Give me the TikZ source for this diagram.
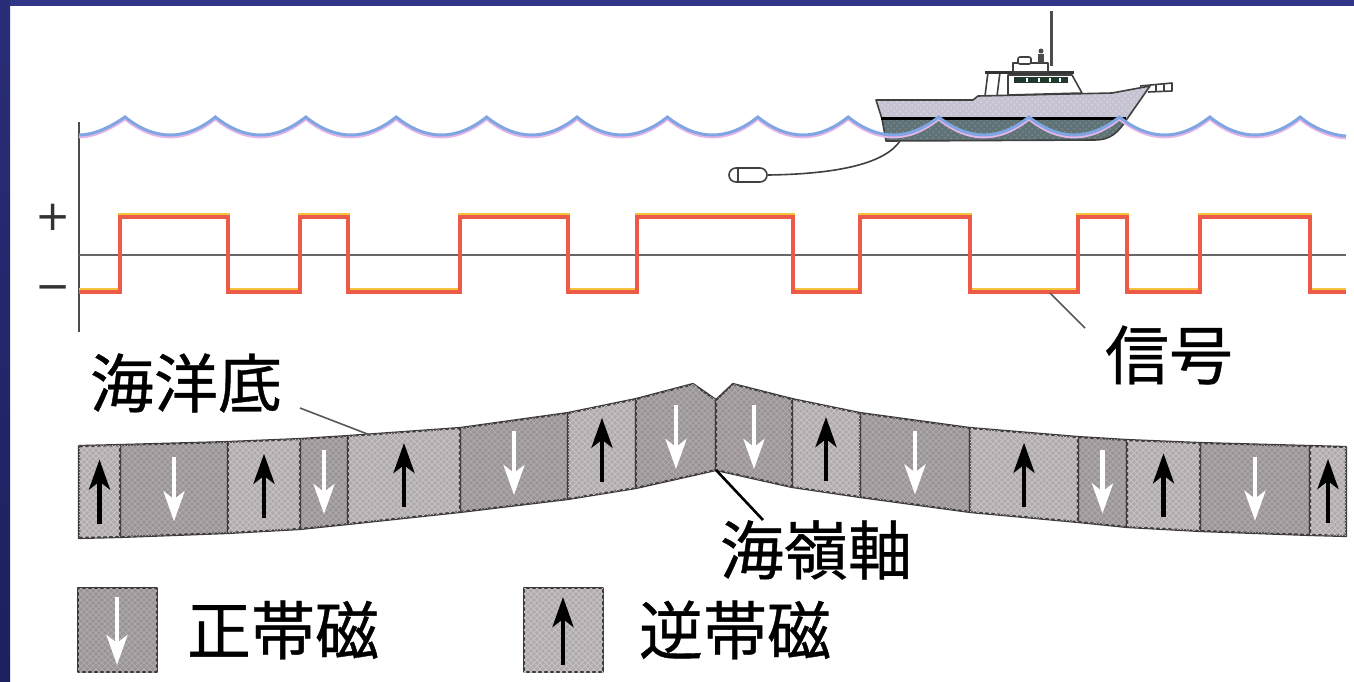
\documentclass[tikz,border=0pt]{standalone}
\usepackage{fontspec}
\newfontfamily\jpfont[FakeBold=0.6]{Noto Sans CJK JP}
\newfontfamily\symfont{DejaVu Sans}
\usetikzlibrary{arrows.meta,patterns}

\definecolor{navytop}{HTML}{2F3589}
\definecolor{navyleft}{HTML}{2A2D78}
\definecolor{navybot}{HTML}{1E1F5E}
\definecolor{seablue}{HTML}{7FA6E2}
\definecolor{seapink}{HTML}{E6B6E8}
\definecolor{sigred}{HTML}{EE5A48}
\definecolor{sigyel}{HTML}{F3C43C}
\definecolor{blkdark}{HTML}{9A9497}
\definecolor{blkdarkhatch}{HTML}{AEA9AB}
\definecolor{blklight}{HTML}{B0AAAD}
\definecolor{blklighthatch}{HTML}{C6C2C4}
\definecolor{edgegray}{HTML}{3E3A3C}
\definecolor{hullup}{HTML}{C6C2D2}
\definecolor{hulluphatch}{HTML}{DAD7E3}
\definecolor{hulllow}{HTML}{5F7275}
\definecolor{hulllowhatch}{HTML}{7A8B8E}
\definecolor{glass}{HTML}{1E3A2C}

% signal trace: alternating polarity along the profile
\newcommand\sigtrace{(79,292) -| (120,217) -| (228,292) -| (300,217) -| (348,292)
  -| (460,217) -| (568,292) -| (637,217) -| (793,292) -| (860,217) -| (970,292)
  -| (1078,217) -| (1127,292) -| (1200,217) -| (1310,292) -- (1346,292)}
% scalloped sea surface
\newcommand\seasurface{(79,135) .. controls (95,135) and (112,126) .. (125,117)
  \foreach \k in {1,...,13} { .. controls +(30,24) and +(-30,24) .. ++(90.4,0) }
  .. controls +(16,14) and +(-8,0) .. (1346,136)}

\begin{document}
\begin{tikzpicture}[x=0.5pt,y=-0.5pt,
  jp/.style={font=\jpfont\fontsize{32}{38}\selectfont, inner sep=0pt},
  pm/.style={font=\symfont\fontsize{21}{24}\selectfont, text=black!80, inner sep=0pt},
  normblk/.style={fill=blkdark, draw=edgegray, line width=1.1pt, line join=round,
    postaction={pattern=north east lines, pattern color=blkdarkhatch},
    postaction={pattern=north west lines, pattern color=blkdarkhatch}},
  revblk/.style={fill=blklight, draw=edgegray, line width=1.1pt, line join=round,
    postaction={pattern=north east lines, pattern color=blklighthatch},
    postaction={pattern=north west lines, pattern color=blklighthatch}},
  downarr/.style={white, line width=2.3pt, -{Stealth[length=15pt,width=10.5pt,inset=4pt]}},
  uparr/.style={black, line width=2.3pt, -{Stealth[length=15pt,width=10.5pt,inset=4pt]}},
  ptr/.style={black!65, line width=0.8pt},
  shipline/.style={black!75, line width=0.8pt, line join=round},
]
\useasboundingbox (0,0) rectangle (1354,681);
\fill[white] (0,0) rectangle (1354,681);

% frame bands
\fill[navytop] (0,0) rectangle (1354,6);
\shade[top color=navyleft, bottom color=navybot] (0,0) rectangle (10,681);

% axis and zero line
\draw[black!70, line width=1pt] (79,122) -- (79,332);
\draw[black!60, line width=1pt] (79,255) -- (1346,255);
\node[pm] (plus) at (53,217) {+};
\node[pm] (minus) at (53,293) {−};

% magnetic signal
\draw[sigyel, line width=1.6pt, yshift=1.2pt] \sigtrace;
\draw[sigred, line width=2pt, line join=miter] \sigtrace;

% ship
\fill[hullup, postaction={pattern=crosshatch dots, pattern color=hulluphatch}]
  (876,100) -- (973,100) -- (978,96) -- (1112,93) -- (1150,86) -- (1127,119) -- (882,119) -- cycle;
\draw[shipline] (882,119) -- (876,100) -- (973,100) -- (978,96) -- (1112,93) -- (1150,86) -- (1127,119);
\fill[hulllow, postaction={pattern=crosshatch dots, pattern color=hulllowhatch}]
  (882,119) -- (1127,119) .. controls (1118,133) and (1110,140) .. (1095,140) -- (886,141) -- cycle;
\draw[shipline] (882,119) -- (886,141) -- (1095,140) .. controls (1110,140) and (1118,133) .. (1127,119);
\draw[black, line width=1.5pt] (881,118) -- (1126,118);
% cabin
\draw[shipline, fill=white] (1008,75) -- (1072,75) -- (1082,93) -- (1008,95) -- cycle;
\fill[glass] (1014,77) rectangle (1068,83);
\foreach \wx in {1026,1038,1049,1059} \fill[white] (\wx,78) rectangle (\wx+2,82);
\draw[shipline] (988,72) -- (985,96) (1000,72) -- (997,96);
\draw[black!80, line width=1.5pt] (985,72) -- (1074,72);
\draw[shipline, fill=white] (1013,63) rectangle (1048,72);
\draw[shipline, fill=white, rounded corners=1pt] (1018,57) rectangle (1031,64);
\fill[black!70] (1041,51) circle (2.5);
\fill[black!70] (1038,54) rectangle (1044,63);
\draw[black!70, line width=1.5pt] (1051,11) -- (1051,66);
\draw[shipline] (1140,86) -- (1172,83) -- (1172,91) -- (1148,92);
\draw[shipline] (1156,85) -- (1156,91) (1164,84) -- (1164,91);

% towed magnetometer
\node[draw=black!75, fill=white, line width=0.8pt, rounded corners=3.5pt,
  minimum width=19pt, minimum height=7pt, inner sep=0pt] (fish) at (748,175) {};
\draw[shipline] (738,168.5) -- (738,181.5);
\coordinate (tow) at (900,141);
\draw[shipline] (fish.east) .. controls (840,174) and (885,163) .. (tow);

% sea surface
\draw[seapink, line width=1.4pt, yshift=-1pt] \seasurface;
\draw[seablue, line width=1.5pt] \seasurface;

% sea-floor blocks, normal polarity
\foreach \xa/\ta/\ba/\xb/\tb/\bb in {120/445/537/228/442/533, 300/439/529/348/436/524,
    460/428/512/568/413/499, 860/413/497/970/428/512, 1078/437/522/1127/440/527,
    1200/443/531/1310/446/535} {
  \path[normblk] (\xa,\ta) -- (\xb,\tb) -- (\xb,\bb) -- (\xa,\ba) -- cycle;
  \pgfmathsetmacro\xm{(\xa+\xb)/2}
  \pgfmathsetmacro\ym{(\ta+\tb+\ba+\bb)/4}
  \draw[downarr] (\xm,\ym-32) -- (\xm,\ym+32);
}
% sea-floor blocks, reversed polarity
\foreach \xa/\ta/\ba/\xb/\tb/\bb in {79/446/538/120/445/537, 228/442/533/300/439/529,
    348/436/524/460/428/512, 568/413/499/636/399/488, 792/399/487/860/413/497,
    970/428/512/1078/437/522, 1127/440/527/1200/443/531, 1310/446/535/1346/447/536} {
  \path[revblk] (\xa,\ta) -- (\xb,\tb) -- (\xb,\bb) -- (\xa,\ba) -- cycle;
  \pgfmathsetmacro\xm{(\xa+\xb)/2}
  \pgfmathsetmacro\ym{(\ta+\tb+\ba+\bb)/4}
  \draw[uparr] (\xm,\ym+32) -- (\xm,\ym-32);
}
% the two blocks meeting at the ridge
\path[normblk] (636,399) -- (693,384) -- (716,400) -- (716,470) -- (636,488) -- cycle;
\draw[downarr] (676,405) -- (676,469);
\path[normblk] (716,400) -- (733,384) -- (792,399) -- (792,487) -- (716,470) -- cycle;
\draw[downarr] (754,405) -- (754,469);

% labels and leaders
\node[jp] (seafloor) at (186,383) {海洋底};
\coordinate (sfA) at (300,408);
\coordinate (sfB) at (370,435);
\draw[ptr] (sfA) -- (sfB);

\node[jp] (signal) at (1169,355) {信号};
\coordinate (sgA) at (1050,293);
\coordinate (sgB) at (1085,328);
\draw[ptr] (sgA) -- (sgB);

\node[jp] (ridge) at (816,550) {海嶺軸};
\coordinate (rgA) at (716,470);
\coordinate (rgB) at (763,520);
\draw[black, line width=1.3pt] (rgA) -- (rgB);

% legend
\path[normblk] (78,588) rectangle (157,672);
\draw[downarr] (117,597) -- (117,665);
\node[jp] (normlbl) at (283,630) {正帯磁};
\path[revblk] (524,588) rectangle (603,672);
\draw[uparr] (563,665) -- (563,597);
\node[jp] (revlbl) at (735,630) {逆帯磁};
\end{tikzpicture}
\end{document}
